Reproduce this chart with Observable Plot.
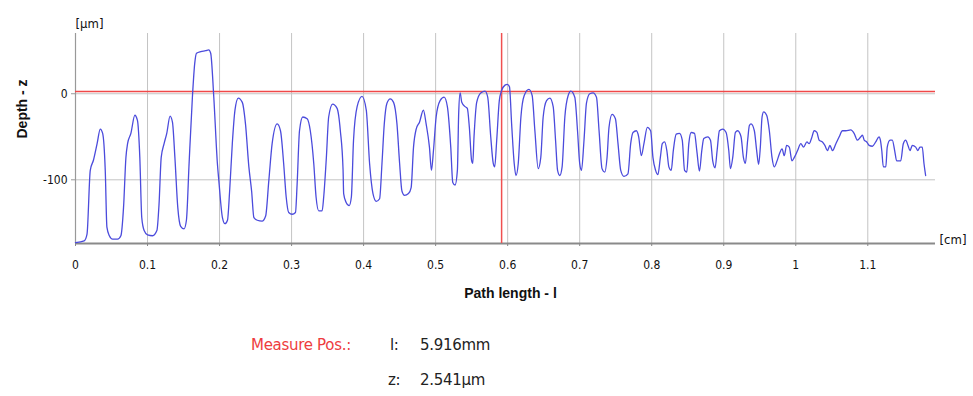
<!DOCTYPE html>
<html>
<head>
<meta charset="utf-8">
<script src="https://cdn.jsdelivr.net/npm/d3@7"></script>
<script src="https://cdn.jsdelivr.net/npm/@observablehq/plot@0.6"></script>
<style>
  body { margin: 0; background: #fff; font-family: "DejaVu Sans", sans-serif; }
  #wrap { position: relative; width: 973px; height: 396px; }
  .info { position: absolute; font-size: 15px; color: #222; white-space: nowrap; font-family: "DejaVu Sans", sans-serif; letter-spacing: -0.3px; }
  .red { color: #ee3c40; }
</style>
</head>
<body>
<div id="wrap">
  <div id="chart"></div>
  <div class="info red" style="left:251px; top:336px;">Measure Pos.:</div>
  <div class="info" style="left:390px; top:336px;">l:</div>
  <div class="info" style="left:420px; top:336px;">5.916mm</div>
  <div class="info" style="left:388px; top:371px;">z:</div>
  <div class="info" style="left:420px; top:371px;">2.541µm</div>
</div>
<script>
// Profile: path length l [cm] and depth z [µm]
const pathLength = [
  0, 0.012, 0.016, 0.0205, 0.025, 0.030, 0.0344, 0.0377, 0.0413, 0.0436, 0.047, 0.0515, 0.0584, 0.063, 0.0667, 0.070, 0.0723, 0.0769, 0.0824, 0.086, 0.0893, 0.092, 0.0953,
  0.100, 0.107, 0.113, 0.116, 0.119, 0.123, 0.1267, 0.1313, 0.1346, 0.138, 0.142, 0.146, 0.1507, 0.154, 0.1577, 0.1623, 0.1655, 0.168, 0.174, 0.1807, 0.185, 0.1877, 0.192, 0.197,
  0.199, 0.204, 0.2075, 0.211, 0.214, 0.2177, 0.2214, 0.226, 0.2316, 0.236, 0.2407, 0.2445, 0.2477, 0.2524, 0.259, 0.264, 0.2684, 0.273, 0.280, 0.2846, 0.289, 0.2925, 0.296,
  0.3008, 0.3054, 0.3077, 0.311, 0.3155, 0.3216, 0.326, 0.3308, 0.334, 0.3377, 0.3424, 0.3446, 0.3483, 0.3515, 0.357, 0.3632, 0.3677, 0.3715, 0.3723, 0.3756, 0.380, 0.383, 0.386, 0.391, 0.3978,
  0.4037, 0.4083, 0.413, 0.4176, 0.4222, 0.4255, 0.4287, 0.4324, 0.437, 0.4416, 0.4463, 0.450, 0.4532, 0.4568, 0.4623, 0.466, 0.4693, 0.473, 0.4776, 0.483, 0.4868, 0.4914, 0.4942, 0.497,
  0.5007, 0.5062, 0.5118, 0.5163, 0.521, 0.5238, 0.527, 0.5302, 0.532, 0.534, 0.5363, 0.5409, 0.544, 0.5468, 0.550, 0.5515, 0.5533, 0.557, 0.5626, 0.5686, 0.5723, 0.5765, 0.580, 0.582, 0.5848, 0.5884, 0.5917, 0.5963, 0.5995,
  0.6025, 0.6055, 0.6091, 0.6115, 0.6147, 0.6184, 0.623, 0.6295, 0.634, 0.6378, 0.6424, 0.646, 0.6493, 0.654, 0.6586, 0.6632, 0.6665, 0.6693, 0.6724, 0.6756, 0.6794, 0.684, 0.6877, 0.6932, 0.697,
  0.700, 0.7025, 0.706, 0.7094, 0.714, 0.7186, 0.7233, 0.7269, 0.731, 0.7348, 0.738, 0.7407, 0.745, 0.7496, 0.7532, 0.757, 0.7615, 0.767, 0.7708, 0.774, 0.7787, 0.7819, 0.7856, 0.7892, 0.7939, 0.7985,
  0.8017, 0.8054, 0.8086, 0.812, 0.8147, 0.8179, 0.821, 0.8238, 0.8271, 0.830, 0.834, 0.8386, 0.8424, 0.8456, 0.8487, 0.8515, 0.8548, 0.8594, 0.8626, 0.8663, 0.8695, 0.8723, 0.8778, 0.8816, 0.8847, 0.888, 0.8908, 0.894, 0.8986,
  0.9033, 0.907, 0.9093, 0.9125, 0.9162, 0.9194, 0.924, 0.9273, 0.930, 0.9332, 0.9356, 0.9379, 0.9425, 0.9457, 0.9485, 0.9508, 0.9532, 0.9554, 0.9596, 0.9633, 0.967, 0.9702, 0.974, 0.9772, 0.981, 0.984, 0.9873, 0.991, 0.9947, 0.998,
  1.0025, 1.007, 1.0108, 1.0155, 1.0186, 1.0218, 1.0256, 1.0293, 1.0325, 1.037, 1.0404, 1.044, 1.0474, 1.051, 1.0557, 1.0603, 1.0648, 1.0695, 1.0764, 1.081, 1.0856, 1.0903, 1.0926, 1.095, 1.0986,
  1.1018, 1.1064, 1.111, 1.1156, 1.1175, 1.1194, 1.1216, 1.125, 1.127, 1.1309, 1.134, 1.1373, 1.1401, 1.1457, 1.1493, 1.1526, 1.1558, 1.1586, 1.1618, 1.1665, 1.1696, 1.1724, 1.1756, 1.178, 1.1803
];
const depth = [
  -173, -171, -163, -89, -77, -58, -41, -46, -89, -155, -165, -169, -169, -165, -132, -74, -58, -46, -25, -31, -74, -144, -159,
  -164, -165, -159, -128, -74, -58, -46, -26, -33, -74, -132, -154, -157, -147, -81, -4, 35, 47, 49, 50, 51, 47, -4, -81,
  -101, -144, -151, -147, -113, -58, -19, -5, -10, -35, -85, -113, -144, -147, -148, -142, -101, -58, -35, -43, -81, -120, -138,
  -140, -138, -105, -43, -27, -29, -43, -81, -120, -136, -136, -120, -74, -27, -12, -17, -43, -89, -116, -126, -130, -120, -54, -15, -3,
  -19, -81, -116, -125, -122, -81, -35, -11, -6, -10, -35, -81, -113, -118, -116, -109, -62, -41, -33, -19, -35, -62, -89, -66,
  -27, -8, -4, -15, -62, -103, -106, -89, -23, 1, -10, -15, -17, -39, -78, -81, -50, -10, 1, 3, -4, -50, -81, -85, -54, -8, 4, 10, 11,
  8, -35, -81, -95, -81, -27, -2, 5, -2, -43, -87, -74, -27, -8, -5, -15, -54, -89, -95, -85, -27, -2, 3, -4, -43,
  -81, -89, -54, -11, 0, 1, -4, -43, -87, -91, -74, -39, -24, -29, -58, -89, -96, -93, -58, -45, -43, -50, -72, -58, -39, -43,
  -74, -89, -94, -74, -58, -56, -66, -85, -89, -66, -47, -46, -54, -89, -91, -58, -45, -46, -66, -90, -66, -52, -50, -54, -78, -86, -66, -43, -41,
  -45, -66, -87, -74, -45, -43, -50, -74, -81, -54, -37, -35, -43, -66, -82, -62, -27, -21, -25, -43, -74, -85, -78, -70, -64, -72, -60, -62, -78, -74,
  -66, -58, -62, -56, -58, -52, -43, -45, -54, -56, -60, -66, -60, -66, -58, -50, -43, -43, -42, -46, -54, -50, -48, -54, -56,
  -60, -61, -56, -50, -54, -66, -85, -85, -62, -54, -54, -66, -78, -78, -58, -54, -60, -66, -60, -62, -66, -62, -62, -81, -95
];
const xTicks = [0, 0.1, 0.2, 0.3, 0.4, 0.5, 0.6, 0.7, 0.8, 0.9, 1, 1.1];
const xTickLabels = ["0", "0.1", "0.2", "0.3", "0.4", "0.5", "0.6", "0.7", "0.8", "0.9", "1", "1.1"];
const yTicks = [0, -100];
const yTickLabels = ["0", "-100"];
const measureL = 0.5916;   // cm (5.916 mm)
const measureZ = 2.541;    // µm
const xDomain = [0, 1.194];
const yDomain = [-174, 70];

const profile = pathLength.map((l, i) => ({l, z: depth[i]}));

const chart = Plot.plot({
  width: 973,
  height: 310,
  marginLeft: 75,
  marginRight: 38,
  marginTop: 33,
  marginBottom: 67,
  style: {fontFamily: '"DejaVu Sans Condensed", "DejaVu Sans", sans-serif', fontSize: "12px", color: "#222", background: "#fff"},
  x: {domain: xDomain},
  y: {domain: yDomain},
  marks: [
    Plot.gridX(xTicks, {stroke: "#c4c4c4", strokeOpacity: 1, strokeWidth: 1}),
    Plot.gridY(yTicks, {stroke: "#c4c4c4", strokeOpacity: 1, strokeWidth: 1}),
    Plot.ruleX([0], {stroke: "#999", strokeWidth: 1.2}),
    Plot.ruleY([yDomain[0]], {stroke: "#8a8a8a", strokeWidth: 2}),
    Plot.axisX(xTicks, {tickFormat: (d, i) => xTickLabels[i], tickSize: 3, tickPadding: 14, stroke: "#888", label: null, fontSize: 12, fill: "#111"}),
    Plot.axisY(yTicks, {tickFormat: (d, i) => yTickLabels[i], tickSize: 4, tickPadding: 4, stroke: "#999", label: null, fontSize: 12, fill: "#111"}),
    Plot.ruleY([measureZ], {stroke: "#f04848", strokeWidth: 1.6}),
    Plot.ruleX([measureL], {stroke: "#f05050", strokeWidth: 1.5}),
    Plot.line(profile, {x: "l", y: "z", stroke: "#4b4bdc", strokeWidth: 1.3, curve: "monotone-x"}),
    Plot.text(["Depth - z"], {text: d => d, frameAnchor: "left", rotate: -90, dx: -53, fontWeight: "bold", fontSize: 14, fill: "#111", fontFamily: "Liberation Sans, sans-serif"}),
    Plot.text(["Path length - l"], {text: d => d, frameAnchor: "bottom", dx: 5, dy: 54, fontWeight: "bold", fontSize: 14, fill: "#111", fontFamily: "Liberation Sans, sans-serif"}),
    Plot.text(["[µm]"], {text: d => d, frameAnchor: "top-left", dy: -15, fontSize: 13, fill: "#111"}),
    Plot.text(["[cm]"], {text: d => d, frameAnchor: "bottom-right", dx: 4, textAnchor: "start", fontSize: 13, fill: "#111"})
  ]
});
document.getElementById("chart").appendChild(chart);
</script>
</body>
</html>
